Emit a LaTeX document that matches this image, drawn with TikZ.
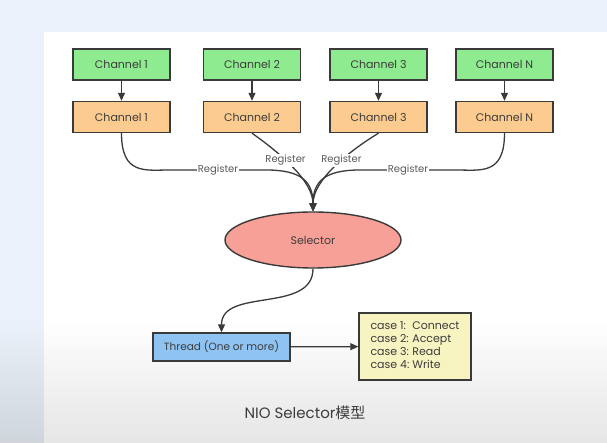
\documentclass[tikz,border=0pt]{standalone}
\usepackage{fontspec}
\setmainfont{Poppins}
\newfontfamily\cjkfont{Noto Sans CJK SC}
\usepackage{tikz}
\usetikzlibrary{positioning}
\usetikzlibrary{shapes.geometric}
\usetikzlibrary{arrows.meta}
\usepackage{xcolor}

\definecolor{pagebg}{HTML}{EAF1FA}
\definecolor{boxline}{HTML}{3A3A3A}
\definecolor{txtgray}{HTML}{3C3C3C}
\definecolor{chgreen}{HTML}{8FEB8F}
\definecolor{chorange}{HTML}{FCCB8F}
\definecolor{selred}{HTML}{F7A097}
\definecolor{thrblue}{HTML}{8EC3F2}
\definecolor{caseyellow}{HTML}{F8F4C2}

\begin{document}
\begin{tikzpicture}[x=1pt, y=1pt,
    box/.style={draw=boxline, line width=1.4pt, minimum width=97pt, minimum height=31pt,
        text=txtgray, font=\fontsize{11}{12}\selectfont},
    conn/.style={draw=boxline, line width=1.3pt, -{Triangle[length=8pt,width=7pt]}},
    reg/.style={fill=white, inner sep=1pt, text=txtgray!85, font=\fontsize{10}{11}\selectfont}]
    % Background
    \useasboundingbox (0,0) rectangle (607,443);
    \fill[pagebg] (0,0) rectangle (607,443);
    \shade[top color=pagebg, bottom color=pagebg!75!gray] (0,0) rectangle (44,120);
    \fill[white] (44,0) rectangle (607,411);
    \shade[top color=white, bottom color=black!10] (44,0) rectangle (607,125);

    % Channels
    \foreach \x/\n/\lbl in {121.5/1/1, 252/2/2, 378.5/3/3, 504.5/4/N} {
        \node[box, fill=chgreen] (g\n) at (\x,378.5) {Channel \lbl};
        \node[box, fill=chorange] (o\n) at (\x,326) {Channel \lbl};
        \draw[conn] (g\n) -- (o\n);
    }

    % Selector
    \node[ellipse, draw=boxline, line width=1.4pt, fill=selred, minimum width=176pt,
        minimum height=56pt, text=txtgray, font=\fontsize{11}{12}\selectfont] (sel) at (313,203) {Selector};

    % Register
    \draw[conn] (o1.south) .. controls +(0,-42) and +(-25,0) .. (170,273)
        -- node[reg] {Register} (266,273) .. controls +(35,0) and +(0,30) .. (sel.north);
    \draw[conn] (o2.south) .. controls (280,290) and (313,262) .. node[reg, pos=0.4] {Register} (sel.north);
    \draw[conn] (o3.south) .. controls (346,290) and (313,262) .. node[reg, pos=0.4] {Register} (sel.north);
    \draw[conn] (o4.south) .. controls +(0,-42) and +(25,0) .. (456,273)
        -- node[reg] {Register} (360,273) .. controls +(-35,0) and +(0,30) .. (sel.north);

    % Thread and cases
    \node[box, fill=thrblue, minimum width=137pt, minimum height=28pt,
        font=\fontsize{10.5}{12}\selectfont] (thr) at (221.5,96) {Thread (One or more)};
    \node[box, fill=caseyellow, minimum width=112pt, minimum height=67pt,
        font=\fontsize{11}{13}\selectfont] (cases) at (415,96.5)
        {\begin{tabular}{@{}l@{\ }l@{}}case 1: & Connect\\ case 2: & Accept\\ case 3: & Read\\ case 4: & Write\end{tabular}};
    \draw[conn] (sel.south) .. controls +(0,-45) and +(0,45) .. (thr.north);
    \draw[conn] (thr) -- (cases);

    % Caption
    \node[text=txtgray, font=\fontsize{15}{17}\selectfont] (cap) at (305,30) {NIO Selector{\cjkfont 模型}};
\end{tikzpicture}
\end{document}
